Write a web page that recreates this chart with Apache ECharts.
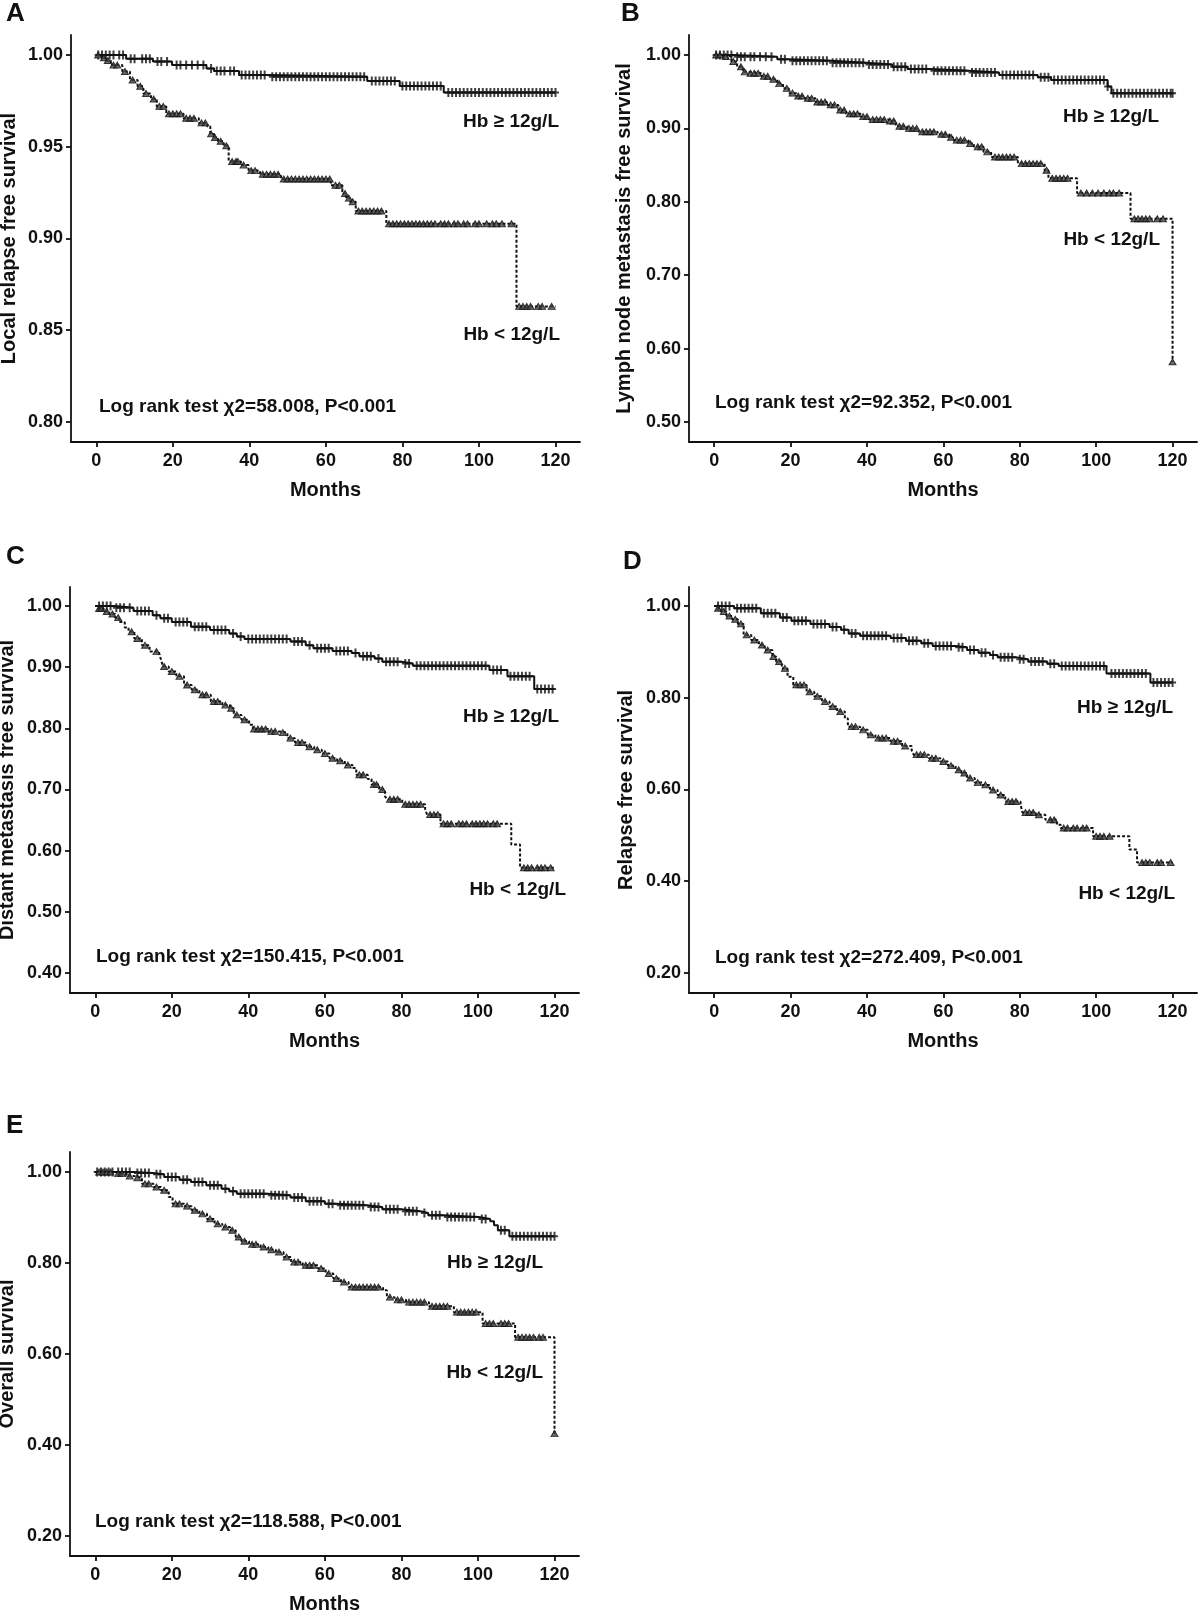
<!DOCTYPE html>
<html><head><meta charset="utf-8">
<script src="https://cdn.jsdelivr.net/npm/echarts@6/dist/echarts.min.js"></script>
<style>html,body{margin:0;padding:0;background:#fff}#c{width:1200px;height:1616px}</style>
</head><body><div id="c"></div>
<script>
// ---------- DATA ----------
const X_TICKS = [0, 20, 40, 60, 80, 100, 120];
const Y_TICKS_A = [0.80, 0.85, 0.90, 0.95, 1.00];
const Y_TICKS_B = [0.50, 0.60, 0.70, 0.80, 0.90, 1.00];
const Y_TICKS_C = [0.40, 0.50, 0.60, 0.70, 0.80, 0.90, 1.00];
const Y_TICKS_D = [0.20, 0.40, 0.60, 0.80, 1.00];
const Y_TICKS_E = [0.20, 0.40, 0.60, 0.80, 1.00];
const GROUPS = ['Hb ≥ 12g/L', 'Hb < 12g/L'];

// Panel A — Local relapse free survival
const A_hi_t = [0, 7.8, 14.8, 19.8, 28.8, 30.8, 37.3, 44.8, 70.8, 79.3, 90.8];
const A_hi_s = [1.000, 0.998, 0.9964, 0.9945, 0.9927, 0.9913, 0.9891, 0.9882, 0.9858, 0.9831, 0.9796];
const A_hi_c = [0.5,1.5,2.5,3.5,4.5,6,7,9,10,12,13,14,16,17,18.5,21,22,23.5,25,26.5,28,30,31.5,32.5,33.5,35,36,38,39,40,41,42,43,44,46,47,48,49,50,51,52,53,54,55,56,57,58,59,60,61,62,63,64,65,66,67,68,69,70,72,73,74,75,76,77,78,80,81,82,83,84,85,86,87,88,89,90,92,93,94,95,96,97,98,99,100,101,102,103,104,105,106,107,108,109,110,111,112,113,114,115,116,117,118,119,120];
const A_lo_t = [0, 1.5, 2.3, 3.8, 6.8, 8.8, 10.8, 12.3, 14.3, 15.8, 18.3, 22.8, 26.8, 29.0, 29.8, 30.8, 31.8, 33.3, 34.6, 37.8, 39.8, 42.8, 48.3, 61.3, 64.3, 65.3, 66.3, 67.8, 75.8, 109.8];
const A_lo_s = [1.000, 0.9985, 0.997, 0.9945, 0.991, 0.9864, 0.983, 0.979, 0.976, 0.972, 0.968, 0.9655, 0.963, 0.961, 0.957, 0.955, 0.953, 0.9505, 0.942, 0.940, 0.937, 0.935, 0.9324, 0.929, 0.9245, 0.922, 0.920, 0.915, 0.908, 0.863];
const A_lo_c = [0.5,2,3,4.5,5.5,7.5,9.5,11.5,13,15,16.5,17.5,19,20,21,22,23.5,24.5,25.5,27.5,28.5,30,31,32.5,34,35.5,36.5,37,38.5,40.5,41.5,43.5,44.5,45.5,46.5,47.5,49,50,51,52,53,54,55,56,57,58,59,60,61,62.5,63.5,65,66,67,68.5,69.5,70.5,71.5,72.5,73.5,74.5,76.5,77.5,78.5,79.5,80.5,81.5,82.5,83.5,84.5,85.5,86.5,87.5,88.5,90,91,92,93.5,94.5,96,97,99,100,102,103.5,104.5,106,108.5,110.5,111.5,112.5,113.5,115.5,116.5,119];

// Panel B — Lymph node metastasis free survival
const B_hi_t = [0, 5, 16.5, 19.5, 30.5, 39.6, 46.6, 50.6, 56.6, 66.6, 74.6, 84.7, 88.2, 103.0, 104.0];
const B_hi_s = [1.000, 0.9977, 0.994, 0.992, 0.9895, 0.987, 0.984, 0.981, 0.9786, 0.976, 0.9727, 0.9695, 0.966, 0.957, 0.948];
const B_hi_c = [0.5,1.5,2.5,3.5,4.5,6,7,8,9.5,10.5,12,13.5,15,17.5,18.5,20.5,21.5,22.5,23.5,24.5,25.5,26.5,27.5,28.5,29.5,31,32,33,34,35,36,37,38,39,40.5,41.5,42.5,43.5,44.5,45.5,47,48,49,50,51.5,52.5,53.5,54.5,55.5,57.5,58.5,59.5,60.5,61.5,62.5,63.5,64.5,65.5,67.5,68.5,69.5,70.5,71.5,72.5,73.5,75.5,76.5,77.5,78.5,79.5,80.5,81.5,82.5,83.5,85.5,86.5,87.5,89,90,91,92,93,94,95,96,97,98,99,100,101,102,103,104.5,105.5,106.5,107.5,108.5,109.5,110.5,111.5,112.5,113.5,114.5,115.5,116.5,117.5,118.5,119.5,120];
const B_lo_t = [0, 2.5, 4.5, 6, 7.5, 8.5, 12.5, 14.5, 16.5, 18, 19.5, 21.5, 23.5, 26.5, 29.5, 32.5, 34.5, 38.5, 40.5, 45.5, 47.5, 50.5, 53.5, 58.5, 61.5, 62.5, 66.5, 68, 70.5, 72.5, 79.5, 86.5, 87.5, 95, 109, 120];
const B_lo_s = [1.000, 0.998, 0.991, 0.984, 0.977, 0.975, 0.971, 0.967, 0.961, 0.9545, 0.948, 0.944, 0.941, 0.936, 0.932, 0.925, 0.920, 0.916, 0.912, 0.910, 0.903, 0.900, 0.8955, 0.892, 0.888, 0.884, 0.8795, 0.875, 0.868, 0.861, 0.852, 0.843, 0.832, 0.812, 0.777, 0.582];
const B_lo_c = [0.5,1.5,3,5,7,8,9.5,10.5,11.5,13,14,15.5,17,19,20.5,22,23,24.5,25.5,27,28,29,30.5,31.5,33,34,35.5,36.5,37.5,39,40,41.5,42.5,43.5,44.5,46,47,48.5,49.5,51,52,53,54.5,55.5,56.5,57.5,59.5,60.5,62,63.5,64.5,65.5,67,69,70,71.5,73.5,74.5,75.5,76.5,77.5,78.5,80.5,81.5,82.5,83.5,84.5,85.5,87,88.5,89.5,90.5,91.5,92.5,96,97.5,99,100.5,102,103.5,104.5,106,110,111,112,113,114,116,117.5,120];

// Panel C — Distant metastasis free survival
const C_hi_t = [0, 5, 10, 15, 17, 20, 25, 30, 35, 37, 39, 51, 55, 57, 62, 67, 69, 73, 75, 80, 83, 103, 107.7, 114.7];
const C_hi_s = [1.000, 0.997, 0.992, 0.985, 0.980, 0.974, 0.966, 0.961, 0.955, 0.950, 0.946, 0.942, 0.936, 0.931, 0.9265, 0.923, 0.918, 0.914, 0.909, 0.906, 0.9025, 0.8955, 0.885, 0.8645];
const C_hi_c = [1,2,3,4,5.5,6.5,7.5,9,11,12,13,14,16,18,19,21,22,23,24,26,27,28,29,31,32,33,34,36,38,40,41,42,43,44,45,46,47,48,49,50,52,53,54,56,58,59,60,61,63,64,65,66,68,70,71,72,74,76,77,78,79,81,82,84,85,86,87,88,89,90,91,92,93,94,95,96,97,98,99,100,101,102,104,105,106,108.5,109.5,110.5,111.5,112.5,113.5,115.5,116.5,117.5,118.5,119.5];
const C_lo_t = [0, 0.7, 2.2, 3.7, 5.2, 6.2, 7.7, 8.7, 10.2, 12.2, 14.2, 16.7, 17.2, 17.7, 19.2, 21.2, 23.2, 25.2, 27.2, 30.2, 33.2, 35.2, 36.2, 38.2, 40.2, 41.2, 45.2, 48.2, 50.2, 52.2, 55.2, 57.2, 59.2, 61.2, 63.2, 65.2, 67.2, 68.2, 71.2, 72.2, 74.2, 75.7, 76.2, 80.2, 86.2, 86.7, 90.2, 108.7, 111];
const C_lo_s = [1.000, 0.996, 0.991, 0.987, 0.981, 0.974, 0.965, 0.958, 0.947, 0.936, 0.9255, 0.9216, 0.912, 0.901, 0.893, 0.885, 0.871, 0.863, 0.855, 0.844, 0.838, 0.833, 0.822, 0.814, 0.806, 0.799, 0.795, 0.793, 0.784, 0.777, 0.770, 0.765, 0.759, 0.751, 0.747, 0.740, 0.735, 0.724, 0.717, 0.708, 0.700, 0.689, 0.684, 0.676, 0.668, 0.659, 0.644, 0.610, 0.572];
const C_lo_c = [1,1.5,3,4.5,6,9.5,11,13,16,18,20,22,24,26,28,29,31,32,34,35.5,37,39,41.5,42.5,43.5,44.5,46,47,49,51,53,54,56,58,60,62,64,66,69,70,72.8,73.5,75,77,78,79,81,82,83,84,85,87.5,88.5,89.5,91,92,93,95,96,97,98.5,99.5,100.5,101.5,102.5,104,105,112,113,114,115.5,116.5,117.5,119];

// Panel D — Relapse free survival
const D_hi_t = [0, 5.2, 12.2, 17.2, 20.2, 25.2, 30.2, 33.2, 35.2, 38.2, 46.2, 50.2, 54.2, 57.2, 63.2, 66.2, 69.2, 72.2, 74.2, 79.2, 82.2, 87.2, 90.2, 102.7, 114.2];
const D_hi_s = [1.000, 0.995, 0.984, 0.975, 0.968, 0.961, 0.954, 0.948, 0.940, 0.935, 0.930, 0.924, 0.919, 0.913, 0.910, 0.904, 0.898, 0.893, 0.888, 0.884, 0.879, 0.874, 0.869, 0.853, 0.833];
const D_hi_c = [1,2,3,4,6,7,8,9,10,11,13,14,15,16,18,19,21,22,23,24,26,27,28,29,31,32,34,36,37,39,40,41,42,43,44,45,47,48,49,51,52,53,55,56,58,59,60,61,62,64,65,67,68,70,71,73,75,76,77,78,80,81,83,84,85,86,88,89,91,92,93,94,95,96,97,98,99,100,101,102,104,105,106,107,108,109,110,111,112,113,115,116,117,118,119,120];
const D_lo_t = [0, 0.7, 1.7, 3.2, 4.7, 6.2, 7.7, 9.7, 11.7, 13.2, 15.2, 16.2, 17.7, 19.2, 20.7, 24.2, 26.2, 28.2, 30.2, 32.2, 34.2, 35, 38.2, 40.2, 42.2, 46.2, 49.2, 51.7, 52.2, 56.2, 59.2, 61.2, 63.2, 64.7, 66.2, 68.2, 70.2, 72.2, 74.2, 76.2, 80.2, 80.7, 84.2, 86.7, 89.7, 90.7, 99.2, 108.7, 110.7];
const D_lo_s = [1.000, 0.995, 0.988, 0.978, 0.971, 0.961, 0.937, 0.926, 0.915, 0.904, 0.890, 0.879, 0.864, 0.846, 0.828, 0.813, 0.803, 0.792, 0.781, 0.770, 0.755, 0.737, 0.730, 0.719, 0.712, 0.705, 0.695, 0.685, 0.676, 0.668, 0.661, 0.652, 0.643, 0.636, 0.625, 0.615, 0.610, 0.599, 0.588, 0.574, 0.567, 0.550, 0.545, 0.534, 0.523, 0.516, 0.498, 0.469, 0.441];
const D_lo_c = [1,2.5,4,5.5,7,8.5,10.5,12.5,14,15.5,17,18.5,21.5,22.5,23.5,25,27,29,31,33,36,37,39,41,43,44,45,47,48,50,53,54,55,57,58,60,62,64,65.5,67,69,71,73,75,77,78,79,81.5,82.5,83.5,85,88,89,91.5,92.5,94,95,96.5,97.5,100,101,102,103.5,112,113,114,116,117,119.5];

// Panel E — Overall survival
const E_hi_t = [0, 10, 15, 18, 22, 25, 29, 33, 35, 37, 45, 51, 55, 60, 63, 71, 75, 80, 85, 87, 91, 100.2, 103.2, 104.2, 105.2, 108.2];
const E_hi_s = [1.000, 0.998, 0.995, 0.989, 0.983, 0.978, 0.971, 0.963, 0.958, 0.952, 0.949, 0.944, 0.936, 0.930, 0.927, 0.923, 0.918, 0.914, 0.910, 0.905, 0.901, 0.897, 0.892, 0.883, 0.872, 0.859];
const E_hi_c = [0.5,1.5,2.5,3.5,4.5,6,7,8,9,11,12,13,14,16,17,19,20,21,23,24,26,27,28,30,31,32,34,36,38,39,40,41,42,43,44,46,47,48,49,50,52,53,54,56,57,58,59,61,62,64,65,66,67,68,69,70,72,73,74,76,77,78,79,81,82,83,84,86,88,89,90,92,93,94,95,96,97,98,99,101,102,106,107,109,110,111,112,113,114,115,116,117,118,119,120];
const E_lo_t = [0, 5.2, 8.2, 10.2, 12.2, 15.2, 17.2, 19.2, 20.2, 23.2, 25.2, 27.2, 29.2, 31.2, 33.2, 35.2, 36.7, 38.2, 40.2, 43.2, 45.2, 47.2, 49.2, 51.2, 54.2, 58.2, 60.2, 62.2, 64.2, 66.2, 75.2, 76.2, 78.2, 81.2, 87.2, 93.7, 101.2, 109.7, 120];
const E_lo_s = [1.000, 0.9965, 0.991, 0.9875, 0.974, 0.967, 0.960, 0.945, 0.930, 0.925, 0.916, 0.908, 0.897, 0.886, 0.879, 0.872, 0.857, 0.848, 0.841, 0.835, 0.829, 0.824, 0.813, 0.802, 0.795, 0.788, 0.777, 0.766, 0.758, 0.747, 0.740, 0.725, 0.719, 0.714, 0.705, 0.692, 0.667, 0.637, 0.425];
const E_lo_c = [1,2,3,4,6,7,9,11,13,14,16,18,21,22,24,26,28,30,32,34,35.8,37.5,39,41,42,44,46,48,50,52,53,55,56,57,59,61,63,65,67,68,69,70,71,72,73,74,77,79,80,82,83,84,85,86,88,89,90,91,92,94.5,95.5,96.5,97.5,98.5,99.5,102,103,104,106,107,108,110.5,111.5,112.5,113.5,114.5,116,117,120];

const TITLES = ['Local relapse free survival', 'Lymph node metastasis free survival', 'Distant metastasis free survival', 'Relapse free survival', 'Overall survival'];
const LETTERS = ['A', 'B', 'C', 'D', 'E'];
const STATS = ['Log rank test χ2=58.008, P<0.001', 'Log rank test χ2=92.352, P<0.001', 'Log rank test χ2=150.415, P<0.001', 'Log rank test χ2=272.409, P<0.001', 'Log rank test χ2=118.588, P<0.001'];
const FOLLOW_END = 120;

// ---------- LAYOUT / STYLE ----------
const FF = '"Liberation Sans", Arial, sans-serif';
const PLUS = 'path://M2.5,0H4.5V3.5H7V5.5H4.5V9H2.5V5.5H0V3.5H2.5Z';
const layout = [
  {grid:{left:71, top:35, width:509, height:407}, ymin:0.7891, ymax:1.0109, yt:Y_TICKS_A, nameGap:52, letter:[6,14], hiLab:[559,122], loLab:[560,335], stat:[99,407], hi:[A_hi_t,A_hi_s,A_hi_c], lo:[A_lo_t,A_lo_s,A_lo_c]},
  {grid:{left:689, top:35, width:508, height:407}, ymin:0.4728, ymax:1.0272, yt:Y_TICKS_B, nameGap:55, letter:[621,14], hiLab:[1159,117], loLab:[1160,240], stat:[715,403], hi:[B_hi_t,B_hi_s,B_hi_c], lo:[B_lo_t,B_lo_s,B_lo_c]},
  {grid:{left:70, top:587, width:509, height:406}, ymin:0.3673, ymax:1.0311, yt:Y_TICKS_C, nameGap:53, letter:[6,557], hiLab:[559,717], loLab:[566,890], stat:[96,957], hi:[C_hi_t,C_hi_s,C_hi_c], lo:[C_lo_t,C_lo_s,C_lo_c]},
  {grid:{left:689, top:587, width:508, height:406}, ymin:0.1564, ymax:1.0414, yt:Y_TICKS_D, nameGap:53, letter:[623,562], hiLab:[1173,708], loLab:[1175,894], stat:[715,958], hi:[D_hi_t,D_hi_s,D_hi_c], lo:[D_lo_t,D_lo_s,D_lo_c]},
  {grid:{left:70, top:1152, width:509, height:404}, ymin:0.156, ymax:1.044, yt:Y_TICKS_E, nameGap:53, letter:[6,1126], hiLab:[543,1263], loLab:[543,1373], stat:[95,1522], hi:[E_hi_t,E_hi_s,E_hi_c], lo:[E_lo_t,E_lo_s,E_lo_c]}
];

function stepAt(t, ts, ss) {
  let v = ss[0];
  for (let i = 0; i < ts.length; i++) { if (ts[i] <= t) v = ss[i]; else break; }
  return v;
}
function lineData(ts, ss) {
  const d = ts.map((t, i) => [t, ss[i]]);
  if (ts[ts.length - 1] < FOLLOW_END) d.push([FOLLOW_END, ss[ss.length - 1]]);
  return d;
}

const grids = [], xAxes = [], yAxes = [], series = [], graphics = [];
const axisLineStyle = {color:'#111', width:1.8};
layout.forEach((p, i) => {
  grids.push(Object.assign({outerBoundsMode:'none', containLabel:false}, p.grid));
  xAxes.push({
    type:'value', gridIndex:i, min:-6.6, max:126.4,
    name:'Months', nameLocation:'middle', nameGap:38,
    nameTextStyle:{fontFamily:FF, fontWeight:'bold', fontSize:20, color:'#111'},
    axisLine:{show:true, onZero:false, lineStyle:axisLineStyle},
    axisTick:{show:true, length:5, lineStyle:axisLineStyle, customValues:X_TICKS},
    axisLabel:{customValues:X_TICKS, margin:10, fontFamily:FF, fontWeight:'bold', fontSize:18, color:'#111'},
    splitLine:{show:false}
  });
  yAxes.push({
    type:'value', gridIndex:i, min:p.ymin, max:p.ymax,
    name:TITLES[i], nameLocation:'middle', nameGap:p.nameGap,
    nameTextStyle:{fontFamily:FF, fontWeight:'bold', fontSize:20, color:'#111'},
    axisLine:{show:true, onZero:false, lineStyle:axisLineStyle},
    axisTick:{show:true, length:5, lineStyle:axisLineStyle, customValues:p.yt},
    axisLabel:{customValues:p.yt, margin:8, fontFamily:FF, fontWeight:'bold', fontSize:18, color:'#111', formatter:v => v.toFixed(2)},
    splitLine:{show:false}
  });
  series.push({type:'line', name:GROUPS[0], xAxisIndex:i, yAxisIndex:i, step:'end', symbol:'none', silent:true,
    data:lineData(p.hi[0], p.hi[1]), lineStyle:{color:'#111', width:2}, z:2});
  series.push({type:'line', name:GROUPS[1], xAxisIndex:i, yAxisIndex:i, step:'end', symbol:'none', silent:true,
    data:lineData(p.lo[0], p.lo[1]), lineStyle:{color:'#111', width:2, type:[3,2]}, z:2});
  series.push({type:'scatter', xAxisIndex:i, yAxisIndex:i, silent:true, symbol:PLUS, symbolSize:[7,9],
    data:p.hi[2].map(t => [t, stepAt(t, p.hi[0], p.hi[1])]), itemStyle:{color:'#111'}, z:3});
  series.push({type:'scatter', xAxisIndex:i, yAxisIndex:i, silent:true, symbol:'triangle', symbolSize:[7,6],
    data:p.lo[2].map(t => [t, stepAt(t, p.lo[0], p.lo[1])]), itemStyle:{color:'#444', borderColor:'#111', borderWidth:1}, z:3});
  const tstyle = (text, size, align) => ({text, font:'bold ' + size + 'px ' + FF, fill:'#111', align, verticalAlign:'middle'});
  graphics.push({type:'text', x:p.letter[0], y:p.letter[1], style:tstyle(LETTERS[i], 26, 'left')});
  graphics.push({type:'text', x:p.hiLab[0], y:p.hiLab[1], style:tstyle(GROUPS[0], 19, 'right')});
  graphics.push({type:'text', x:p.loLab[0], y:p.loLab[1], style:tstyle(GROUPS[1], 19, 'right')});
  graphics.push({type:'text', x:p.stat[0], y:p.stat[1], style:tstyle(STATS[i], 19, 'left')});
});

const chart = echarts.init(document.getElementById('c'), null, {renderer:'canvas'});
chart.setOption({
  animation:false, backgroundColor:'#fff',
  grid:grids, xAxis:xAxes, yAxis:yAxes, series:series, graphic:graphics
});
</script>
</body></html>
